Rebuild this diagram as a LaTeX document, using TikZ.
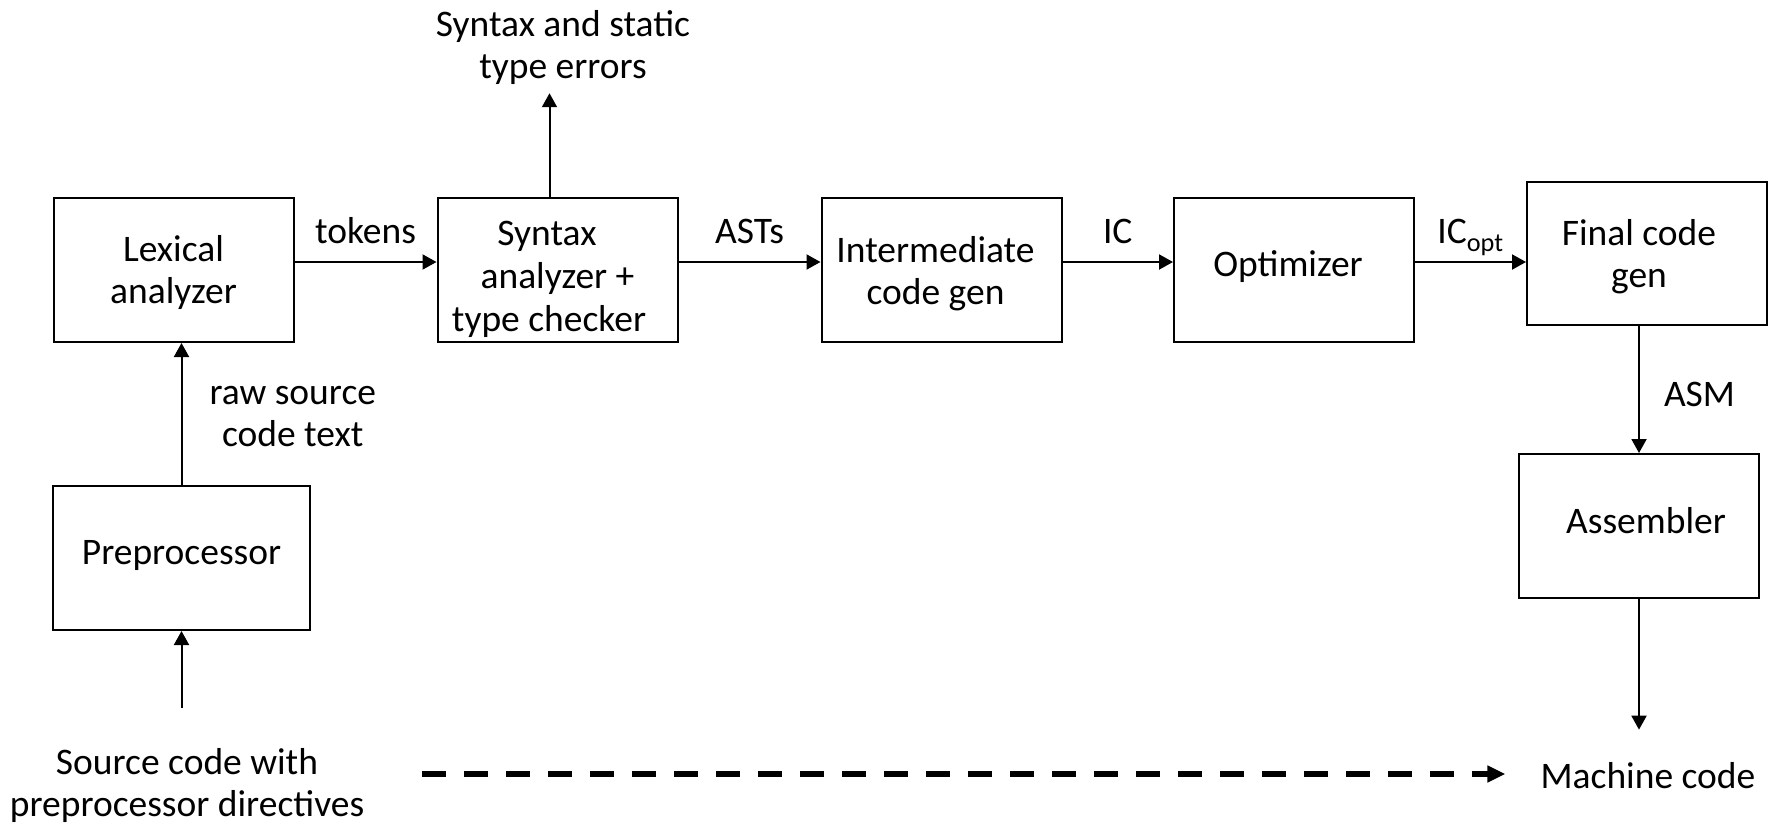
\documentclass[tikz,border=0pt]{standalone}
\usepackage{fontspec}
\setmainfont{Carlito}
\usetikzlibrary{arrows.meta}
\begin{document}
\begin{tikzpicture}[x=1pt,y=-1pt,
  every node/.style={font=\fontsize{37.5}{42}\selectfont, inner sep=0pt, align=center},
  box/.style={draw, line width=2pt, minimum width=240pt, minimum height=144pt},
  arr/.style={line width=2pt, -{Triangle[length=14pt,width=15pt]}},
  darr/.style={line width=6pt, dash pattern=on 24pt off 18pt, -{Triangle[length=18pt,width=16pt]}},
  lbl/.style={anchor=base, yshift=19pt}]
\useasboundingbox (0,0) rectangle (1777,822);
\node[box, label={[yshift=-2pt]center:{Lexical\\analyzer}}] (lex) at (173.5,270) {};
\node[box, label={[yshift=-9pt, font=\fontsize{37.5}{43}\selectfont]center:{Syntax\hspace*{21pt}\\analyzer +\\type checker\hspace*{17pt}}}] (syn) at (557.5,270) {};
\node[box, label={[xshift=-6pt, yshift=-4pt]center:{Intermediate\\code gen}}] (int) at (941.5,270) {};
\node[box, label={[xshift=-6pt, yshift=3pt]center:{Optimizer}}] (opt) at (1294,270) {};
\node[box, minimum height=143pt, label={[xshift=-8pt, yshift=-3pt]center:{Final code\\gen}}] (fin) at (1647,253.5) {};
\node[box, label={[xshift=7pt, yshift=5pt]center:{Assembler}}] (asm) at (1639,526) {};
\node[box, minimum width=257pt, label={[yshift=3pt]center:{Preprocessor}}] (pre) at (181.5,558) {};
\node (err) at (563,48) {Syntax and static\\type errors};
\node (src) at (187,785) {Source code with\\preprocessor directives};
\node (mc) at (1648,776) {Machine code};
\coordinate (dstart) at (422,774);

\draw[arr] ([yshift=8pt]lex.east) -- node[lbl] {tokens} ([yshift=8pt]lex.east -| syn.west);
\draw[arr] ([yshift=8pt]syn.east) -- node[lbl] {ASTs} ([yshift=8pt]syn.east -| int.west);
\draw[arr] ([yshift=8pt]int.east) -- node[lbl] {IC} ([yshift=8pt]int.east -| opt.west);
\draw[arr] ([yshift=8pt]opt.east) -- node[lbl] {IC\textsubscript{opt}} ([yshift=8pt]opt.east -| fin.west);
\draw[arr] (fin.south -| asm.north) -- node[pos=0.54, right=24pt] {ASM} (asm.north);
\draw[arr, shorten >=33pt] (asm.south) -- (asm.south |- mc.north);
\draw[arr] (pre.north) -- node[midway, right=27pt, yshift=-3pt] {raw source\\code text} (lex.south -| pre.north);
\draw[arr, shorten <=40pt] (src.north -| pre.south) -- (pre.south);
\draw[arr, shorten >=8pt] ([xshift=-8pt]syn.north) -- ([xshift=-8pt]syn.north |- err.south);
\draw[darr] (dstart) -- ([xshift=-35pt]mc.west |- dstart);
\end{tikzpicture}
\end{document}
